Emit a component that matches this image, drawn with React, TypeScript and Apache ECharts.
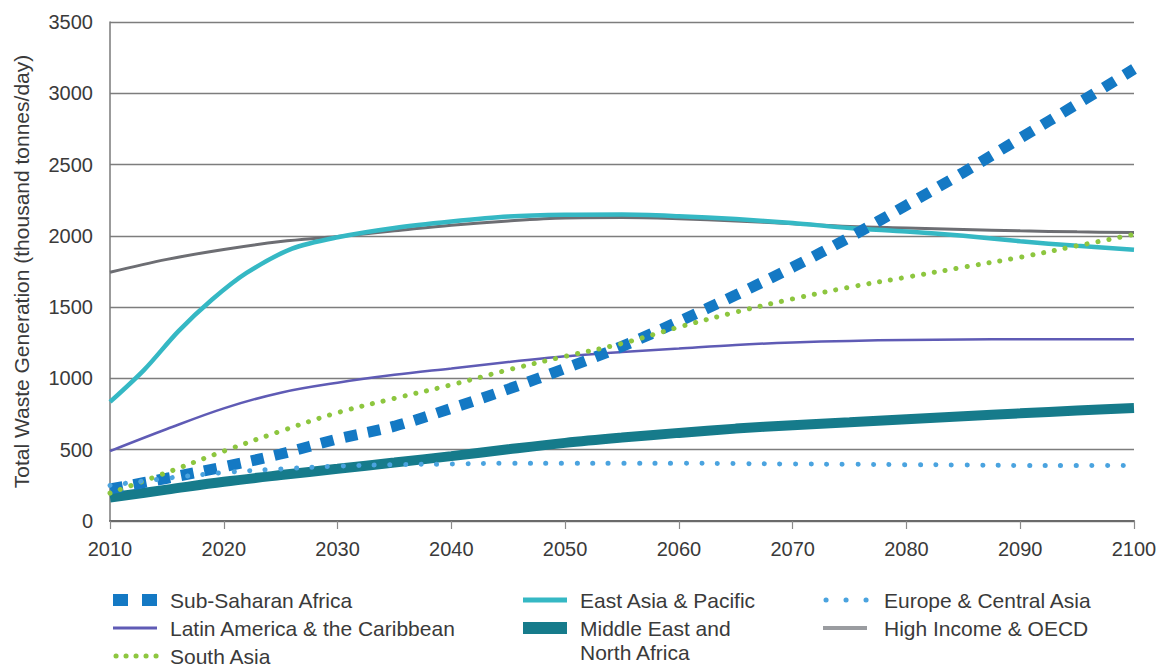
import React, { useEffect, useRef } from "react";
import * as echarts from "echarts";

const years = [2010, 2015, 2020, 2025, 2030, 2035, 2040, 2045, 2050, 2055, 2060, 2065, 2070, 2075, 2080, 2085, 2090, 2095, 2100];

const subSaharanAfrica = [225, 300, 380, 470, 575, 665, 790, 925, 1070, 1225, 1400, 1585, 1780, 1990, 2215, 2445, 2685, 2925, 3170];
const latinAmerica = [490, 645, 790, 900, 970, 1025, 1070, 1115, 1155, 1185, 1210, 1235, 1252, 1263, 1270, 1273, 1275, 1275, 1275];
const southAsia = [195, 340, 490, 630, 760, 860, 955, 1060, 1155, 1245, 1360, 1465, 1558, 1640, 1710, 1780, 1850, 1930, 2010];
const middleEast = [165, 220, 275, 322, 366, 410, 455, 503, 548, 585, 618, 648, 672, 693, 714, 735, 755, 775, 792];
const europeCentralAsia = [250, 300, 340, 365, 385, 395, 400, 405, 405, 405, 405, 403, 400, 398, 395, 393, 390, 390, 388];
const highIncome = [1745, 1835, 1905, 1960, 1995, 2035, 2075, 2105, 2125, 2128, 2120, 2105, 2085, 2065, 2055, 2045, 2035, 2028, 2023];

const eastAsiaYears = [2010, 2013, 2016, 2019, 2022, 2026, 2030, 2035, 2040, 2045, 2050, 2055, 2060, 2065, 2070, 2075, 2080, 2085, 2090, 2095, 2100];
const eastAsia = [835, 1060, 1330, 1555, 1740, 1910, 1990, 2055, 2100, 2135, 2148, 2150, 2138, 2118, 2090, 2055, 2030, 2000, 1962, 1930, 1902];

const xTicks = { min: 2010, max: 2100, interval: 10 };
const yTicks = { min: 0, max: 3500, interval: 500 };

const FONT = "Liberation Sans";

const C = {
  ssa: "#1479c4",
  latin: "#5f5bb5",
  south: "#8dc63f",
  eap: "#35b8c4",
  mena: "#167b8b",
  eca: "#4aa3df",
  hi: "#6d6e73",
};

const pair = (xs: number[], ys: number[]) => xs.map((x, i) => [x, ys[i]]);

export default function App() {
  const ref = useRef<HTMLDivElement>(null);

  useEffect(() => {
    if (!ref.current) return;
    const chart = echarts.init(ref.current, null, { renderer: "svg" });

    const legendItems = [
      { col: 0, row: 0, text: "Sub-Saharan Africa", color: C.ssa, width: 12, dash: [15, 14], cap: "butt", x1: 113, x2: 157 },
      { col: 0, row: 1, text: "Latin America & the Caribbean", color: C.latin, width: 3, dash: null, cap: "butt", x1: 113, x2: 157 },
      { col: 0, row: 2, text: "South Asia", color: C.south, width: 5, dash: [0.1, 9.9], cap: "round", x1: 116, x2: 157 },
      { col: 1, row: 0, text: "East Asia & Pacific", color: C.eap, width: 5, dash: null, cap: "butt", x1: 523, x2: 567 },
      { col: 1, row: 1, text: "Middle East and\nNorth Africa", color: C.mena, width: 12, dash: null, cap: "butt", x1: 523, x2: 567 },
      { col: 2, row: 0, text: "Europe & Central Asia", color: C.eca, width: 5, dash: [0.1, 19.9], cap: "round", x1: 826, x2: 868 },
      { col: 2, row: 1, text: "High Income & OECD", color: "#9a9ca0", width: 4, dash: null, cap: "butt", x1: 823, x2: 867 },
    ];
    const textX = [170, 580, 884];
    const rowY = [600, 628, 656];

    const graphic: any[] = [];
    legendItems.forEach((it) => {
      const y = rowY[it.row];
      graphic.push({
        type: "line",
        shape: { x1: it.x1, y1: y, x2: it.x2, y2: y },
        style: {
          stroke: it.color,
          lineWidth: it.width,
          lineDash: it.dash || undefined,
          lineCap: it.cap,
        },
        silent: true,
      });
      graphic.push({
        type: "text",
        x: textX[it.col],
        y: y - 12,
        style: {
          text: it.text,
          fill: "#3a3a3a",
          font: `21px "${FONT}"`,
          lineHeight: 24,
          textVerticalAlign: "top",
        },
        silent: true,
      });
    });

    const lineSeries = (name: string, data: number[][], color: string, width: number, dash: any, cap: string, z: number, smooth = 0.35) => ({
      name,
      type: "line",
      data,
      smooth,
      showSymbol: false,
      symbol: "none",
      z,
      lineStyle: { color, width, type: dash || "solid", cap },
      emphasis: { disabled: true },
    });

    chart.setOption({
      animation: false,
      backgroundColor: "#ffffff",
      grid: { left: 110, right: 27, top: 22, bottom: 148, containLabel: false },
      xAxis: {
        type: "value",
        min: xTicks.min,
        max: xTicks.max,
        interval: xTicks.interval,
        axisLine: { show: true, lineStyle: { color: "#6a6a6a", width: 2 } },
        axisTick: { show: true, length: 8, lineStyle: { color: "#8a8a8a", width: 1.2 } },
        splitLine: { show: false },
        axisLabel: {
          formatter: (v: number) => String(v),
          color: "#3a3a3a",
          fontSize: 20,
          fontFamily: FONT,
          margin: 18,
        },
      },
      yAxis: {
        type: "value",
        min: yTicks.min,
        max: yTicks.max,
        interval: yTicks.interval,
        name: "Total Waste Generation (thousand tonnes/day)",
        nameLocation: "middle",
        nameGap: 78,
        nameTextStyle: { color: "#3a3a3a", fontSize: 21, fontFamily: FONT },
        axisLine: { show: true, lineStyle: { color: "#7a7a7a", width: 1.5 } },
        axisTick: { show: false },
        splitLine: { show: true, lineStyle: { color: "#7d7d7d", width: 1.3 } },
        axisLabel: {
          formatter: (v: number) => String(v),
          color: "#3a3a3a",
          fontSize: 20,
          fontFamily: FONT,
          margin: 17,
        },
      },
      series: [
        lineSeries("Latin America & the Caribbean", pair(years, latinAmerica), C.latin, 2.5, null, "butt", 2),
        lineSeries("High Income & OECD", pair(years, highIncome), C.hi, 3, null, "butt", 2),
        lineSeries("East Asia & Pacific", pair(eastAsiaYears, eastAsia), C.eap, 4.5, null, "butt", 3, 0.3),
        lineSeries("Middle East and North Africa", pair(years, middleEast), C.mena, 10, null, "butt", 3),
        lineSeries("Sub-Saharan Africa", pair(years, subSaharanAfrica), C.ssa, 11, [13, 11], "butt", 4),
        lineSeries("South Asia", pair(years, southAsia), C.south, 5, [0.1, 11], "round", 5),
        lineSeries("Europe & Central Asia", pair(years, europeCentralAsia), C.eca, 5, [0.1, 15.5], "round", 5),
      ],
      graphic,
    });

    return () => chart.dispose();
  }, []);

  return (
    <div
      ref={ref}
      style={{ position: "fixed", left: 0, top: 0, width: 1161, height: 669, background: "#fff" }}
    />
  );
}
